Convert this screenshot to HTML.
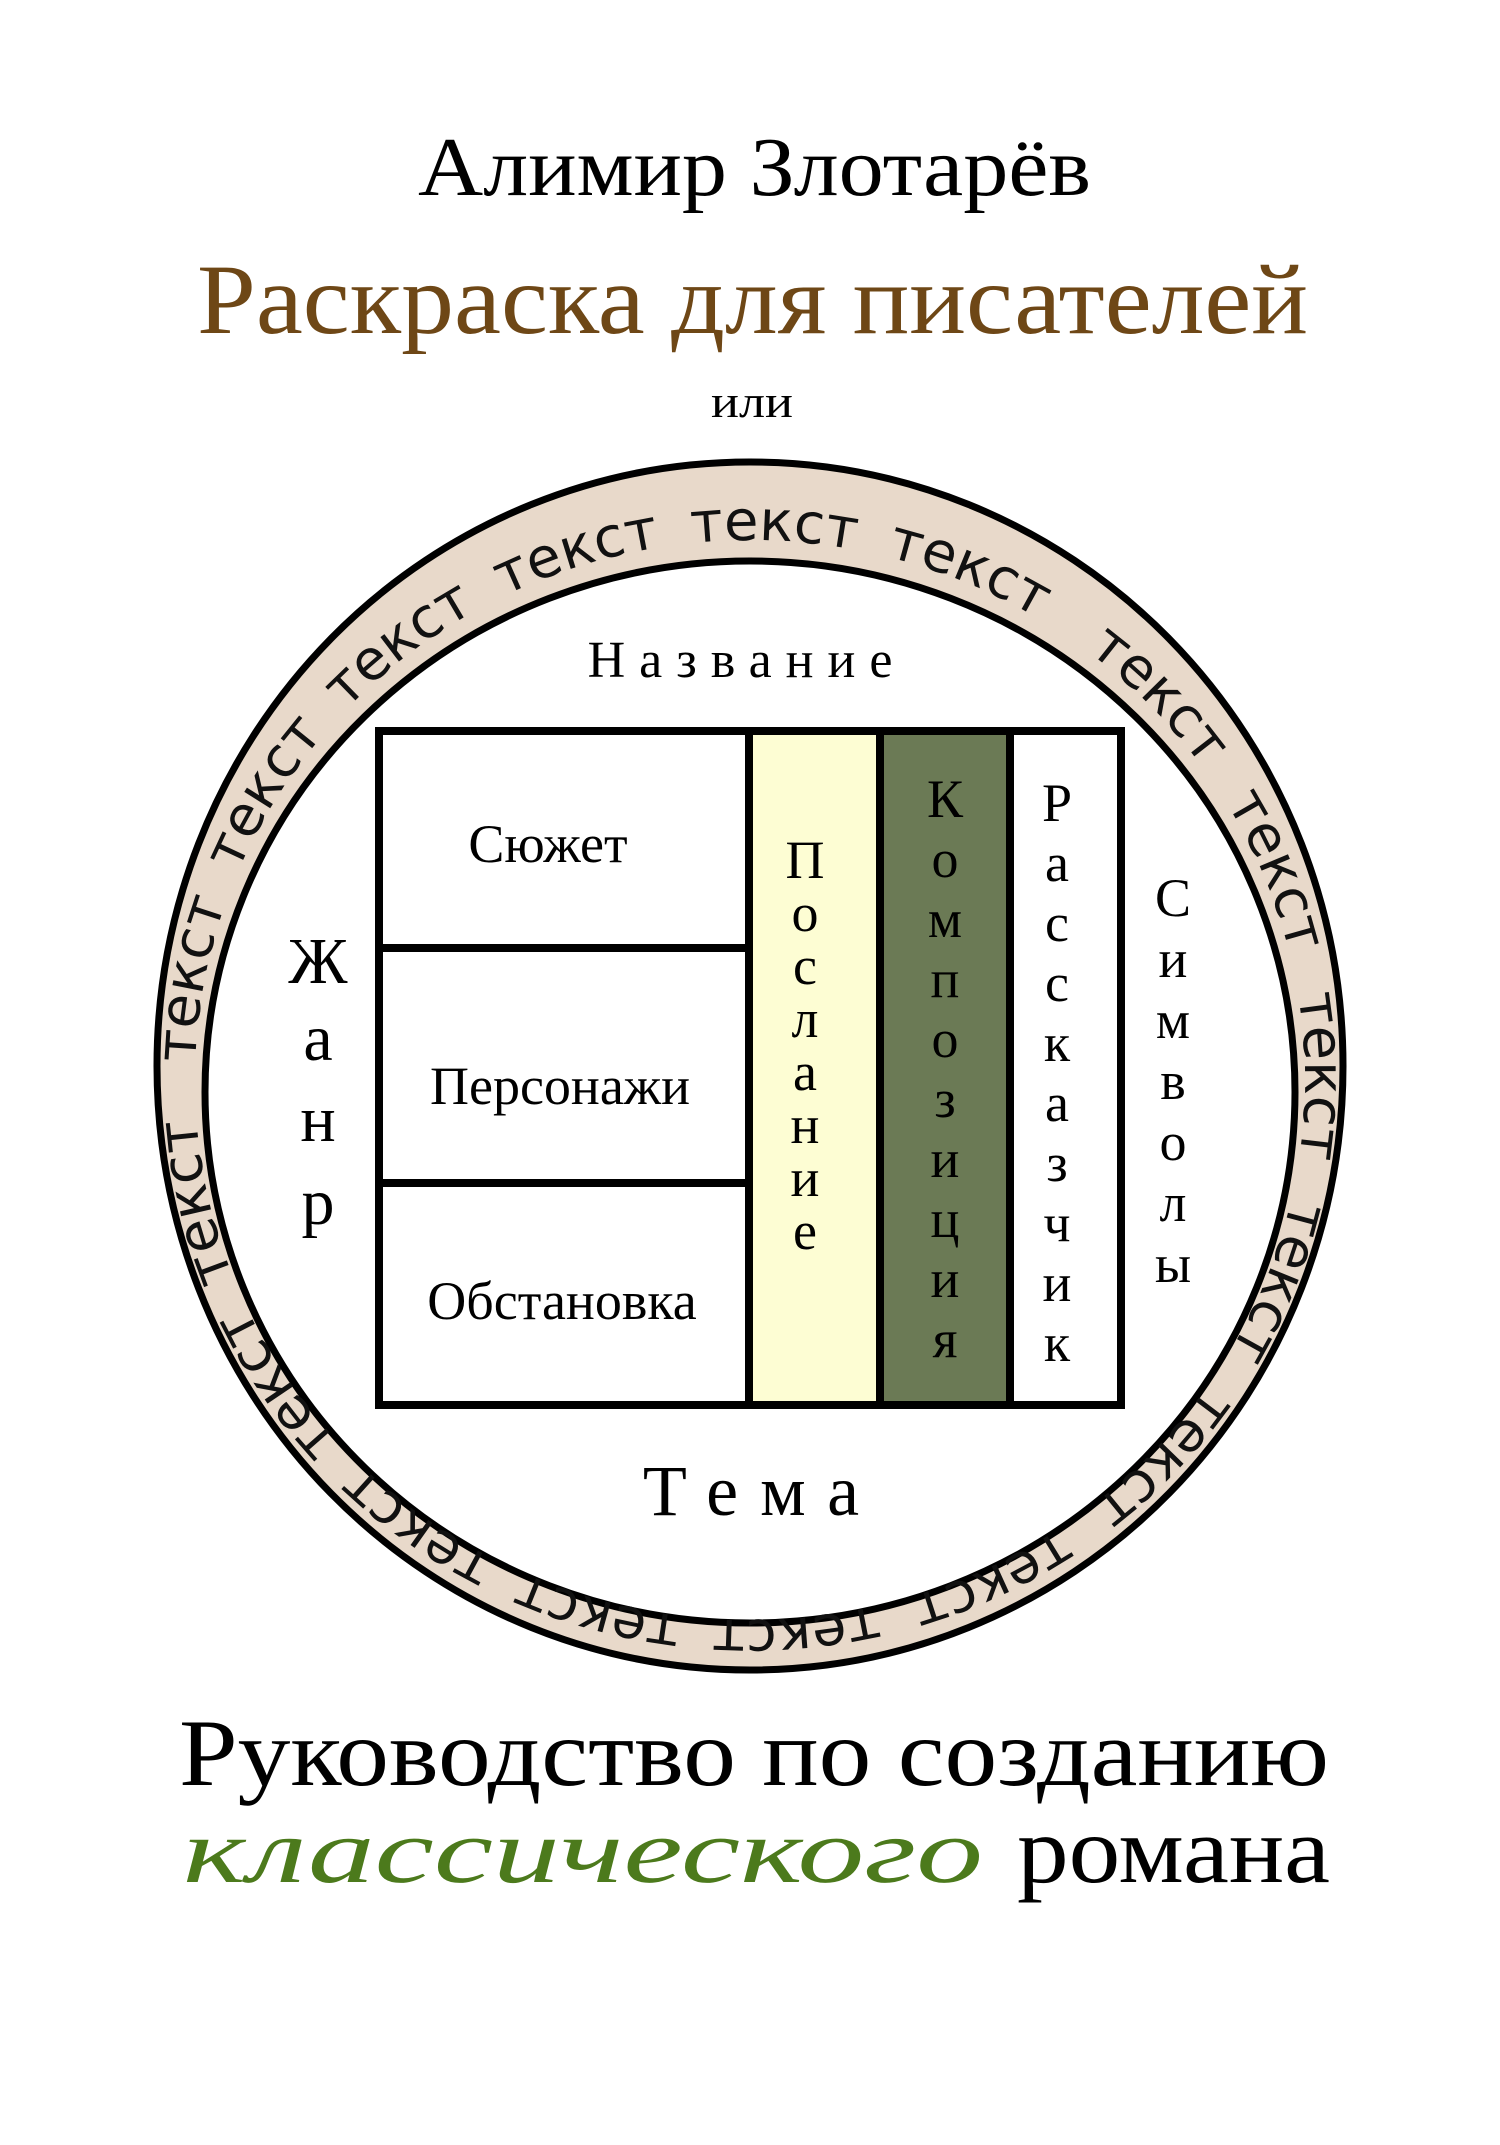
<!DOCTYPE html>
<html><head><meta charset="utf-8"><style>html,body{margin:0;padding:0;background:#fff}svg{display:block}</style></head>
<body>
<svg width="1500" height="2145" viewBox="0 0 1500 2145" xmlns="http://www.w3.org/2000/svg">
<defs>
<path id="ring" d="M195,1080 a555,540 0 1,1 1110,0 a555,540 0 1,1 -1110,0"/>
</defs>
<rect width="1500" height="2145" fill="#fff"/>
<text x="418" y="195" font-family="Liberation Serif, serif" font-size="84" textLength="673" lengthAdjust="spacingAndGlyphs">Алимир Злотарёв</text>
<text x="197" y="333" font-family="Liberation Serif, serif" font-size="100" fill="#6e4716" textLength="1111" lengthAdjust="spacingAndGlyphs">Раскраска для писателей</text>
<text x="711" y="417" font-family="Liberation Serif, serif" font-size="46" textLength="82" lengthAdjust="spacingAndGlyphs">или</text>

<ellipse cx="750" cy="1066" rx="593" ry="604" fill="#e8d9ca" stroke="#000" stroke-width="7"/>
<ellipse cx="750" cy="1092" rx="545" ry="531" fill="#fff" stroke="#000" stroke-width="7"/>
<g font-family="DejaVu Sans, sans-serif" font-size="56" fill="#111">
<text><textPath href="#ring" startOffset="0.5%">текст</textPath></text>
<text><textPath href="#ring" startOffset="6.2%">текст</textPath></text>
<text><textPath href="#ring" startOffset="11.9%">текст</textPath></text>
<text><textPath href="#ring" startOffset="17.6%">текст</textPath></text>
<text><textPath href="#ring" startOffset="23.3%">текст</textPath></text>
<text><textPath href="#ring" startOffset="29%">текст</textPath></text>
<text><textPath href="#ring" startOffset="35.5%">текст</textPath></text>
<text><textPath href="#ring" startOffset="41.5%">текст</textPath></text>
<text><textPath href="#ring" startOffset="47.5%">текст</textPath></text>
<text><textPath href="#ring" startOffset="53.5%">текст</textPath></text>
<text><textPath href="#ring" startOffset="59.5%">текст</textPath></text>
<text><textPath href="#ring" startOffset="65.5%">текст</textPath></text>
<text><textPath href="#ring" startOffset="71.3%">текст</textPath></text>
<text><textPath href="#ring" startOffset="77%">текст</textPath></text>
<text><textPath href="#ring" startOffset="82.7%">текст</textPath></text>
<text><textPath href="#ring" startOffset="88.4%">текст</textPath></text>
<text><textPath href="#ring" startOffset="94.1%">текст</textPath></text>
</g>

<rect x="749" y="731" width="131" height="674" fill="#fdfdd3"/>
<rect x="880" y="731" width="130" height="674" fill="#6b7a55"/>
<g stroke="#000" stroke-width="8" fill="none">
<rect x="379" y="731" width="742" height="674"/>
<line x1="749" y1="731" x2="749" y2="1405"/>
<line x1="880" y1="731" x2="880" y2="1405"/>
<line x1="1010" y1="731" x2="1010" y2="1405"/>
<line x1="379" y1="948" x2="749" y2="948"/>
<line x1="379" y1="1183" x2="749" y2="1183"/>
</g>
<g font-family="Liberation Serif, serif" font-size="54" text-anchor="middle" fill="#000">
<text x="548" y="862">Сюжет</text>
<text x="560" y="1104">Персонажи</text>
<text x="562" y="1319">Обстановка</text>
<text x="747" y="677" font-size="52" letter-spacing="14">Название</text>
<text x="762" y="1515" font-size="72" letter-spacing="22">Тема</text>
</g>
<g font-family="Liberation Serif, serif" text-anchor="middle" fill="#000">
<g font-size="66"><text x="318" y="983">Ж</text><text x="318" y="1060">а</text><text x="318" y="1141">н</text><text x="318" y="1224">р</text></g>
<g font-size="54">
<text x="805" y="878">П</text><text x="805" y="931">о</text><text x="805" y="984">с</text><text x="805" y="1037">л</text><text x="805" y="1090">а</text><text x="805" y="1143">н</text><text x="805" y="1196">и</text><text x="805" y="1249">е</text>
<text x="945" y="817">К</text><text x="945" y="877">о</text><text x="945" y="937">м</text><text x="945" y="997">п</text><text x="945" y="1057">о</text><text x="945" y="1117">з</text><text x="945" y="1177">и</text><text x="945" y="1237">ц</text><text x="945" y="1297">и</text><text x="945" y="1357">я</text>
<text x="1057" y="821">Р</text><text x="1057" y="881">а</text><text x="1057" y="941">с</text><text x="1057" y="1001">с</text><text x="1057" y="1061">к</text><text x="1057" y="1121">а</text><text x="1057" y="1181">з</text><text x="1057" y="1241">ч</text><text x="1057" y="1301">и</text><text x="1057" y="1361">к</text>
<text x="1173" y="916">С</text><text x="1173" y="977">и</text><text x="1173" y="1038">м</text><text x="1173" y="1099">в</text><text x="1173" y="1160">о</text><text x="1173" y="1221">л</text><text x="1173" y="1282">ы</text>
</g></g>

<text x="179" y="1785" font-family="Liberation Serif, serif" font-size="95" textLength="1150" lengthAdjust="spacingAndGlyphs">Руководство по созданию</text>
<text x="183" y="1882" font-family="Liberation Serif, serif" font-style="italic" font-size="92" fill="#4c7a1c" textLength="800" lengthAdjust="spacingAndGlyphs">классического</text>
<text x="1017" y="1882" font-family="Liberation Serif, serif" font-size="95" textLength="313" lengthAdjust="spacingAndGlyphs">романа</text>
</svg>
</body></html>
